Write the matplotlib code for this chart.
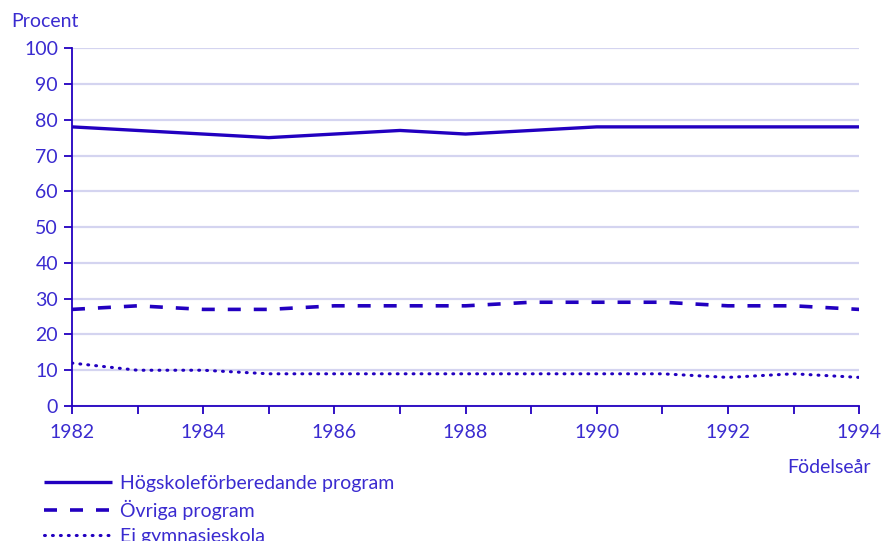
import matplotlib
matplotlib.use("Agg")
import matplotlib.pyplot as plt

years = list(range(1982, 1995))
hogskola = [78, 77, 76, 75, 76, 77, 76, 77, 78, 78, 78, 78, 78]
ovriga = [27, 28, 27, 27, 28, 28, 28, 29, 29, 29, 28, 28, 27]
ej_gymn = [12, 10, 10, 9, 9, 9, 9, 9, 9, 9, 8, 9, 8]
labels = ["Högskoleförberedande program", "Övriga program", "Ej gymnasieskola"]

blue = "#2200c0"
text_blue = "#3a2bd0"
grid_col = "#d4d4f0"

plt.rcParams["font.family"] = ["Lato", "DejaVu Sans"]

fig = plt.figure(figsize=(8.83, 5.41), dpi=100)
ax = fig.add_axes([0.0815, 0.2495, 0.8915, 0.6615])

ax.plot(years, hogskola, color=blue, lw=2.4, solid_capstyle="butt", label=labels[0])
ax.plot(years, ovriga, color=blue, lw=2.6, dashes=(3.6, 3.6), label=labels[1])
ax.plot(years, ej_gymn, color=blue, lw=2.2, dashes=(0.3, 2.3), dash_capstyle="round", label=labels[2])

ax.set_xlim(1982, 1994)
ax.set_ylim(0, 100)
ax.set_yticks(range(0, 101, 10))
ax.set_xticks(years, minor=True)
ax.set_xticks(range(1982, 1995, 2))
ax.yaxis.grid(True, color=grid_col, lw=1.6)
ax.set_axisbelow(True)

for s in ["top", "right"]:
    ax.spines[s].set_visible(False)
for s in ["left", "bottom"]:
    ax.spines[s].set_color(blue)
    ax.spines[s].set_linewidth(1.3)

ax.tick_params(axis="both", which="both", color=blue, width=1.3, length=6,
               labelcolor=text_blue, labelsize=14)
ax.tick_params(axis="x", which="both", pad=7)
ax.tick_params(axis="y", pad=4)

fig.text(0.013, 0.96, "Procent", color=text_blue, fontsize=14, va="center", ha="left")
fig.text(0.986, 0.136, "Födelseår", color=text_blue, fontsize=14, va="center", ha="right")

leg = fig.legend(loc="upper left", bbox_to_anchor=(0.05, 0.122), frameon=False,
                 fontsize=14, handlelength=3.5, handletextpad=0.4, labelspacing=0.4,
                 borderaxespad=0, borderpad=0)
for t in leg.get_texts():
    t.set_color(text_blue)

fig.savefig("out.png", dpi=100)
